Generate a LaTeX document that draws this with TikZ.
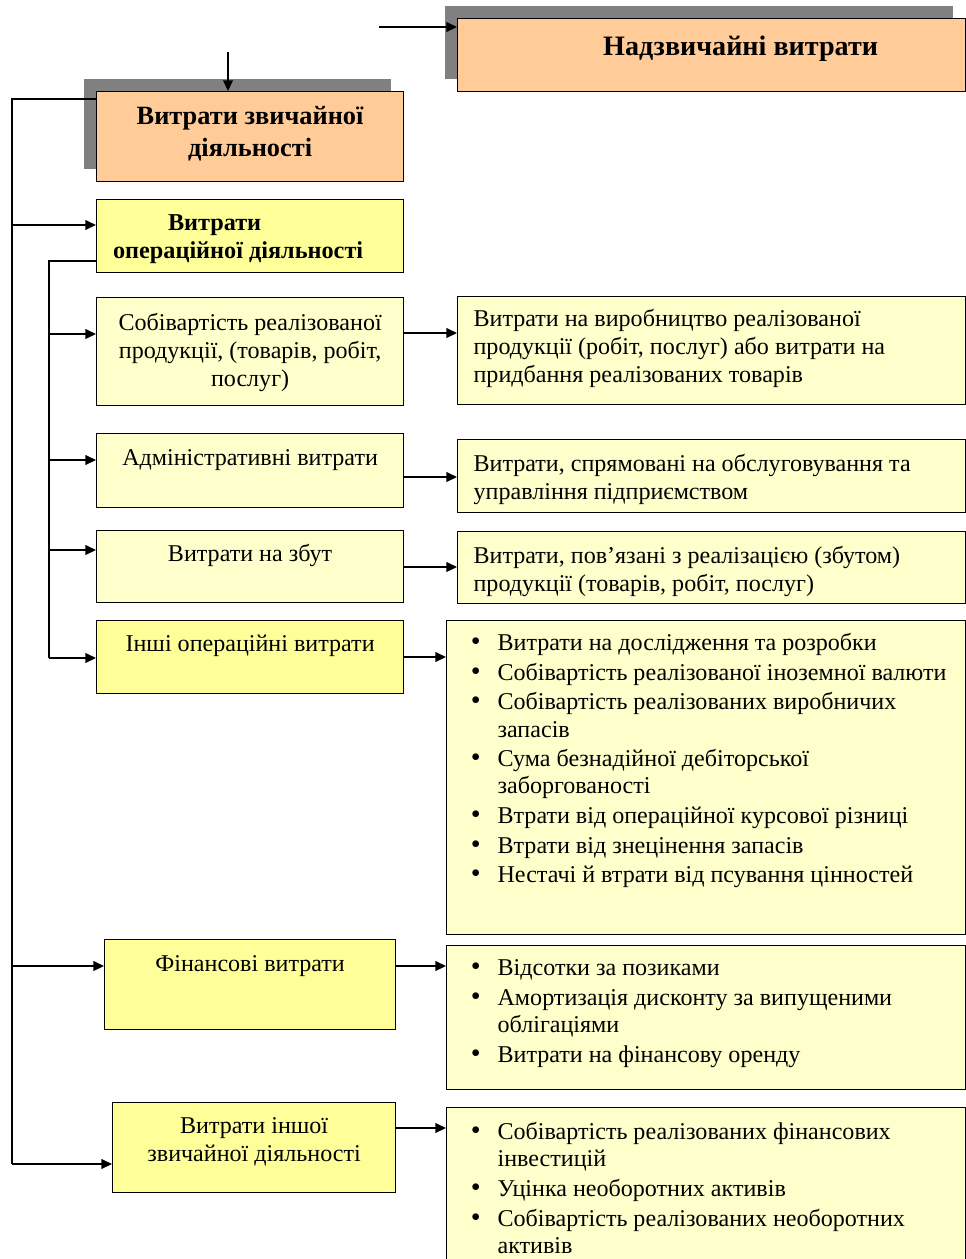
\documentclass[tikz,border=0pt]{standalone}
\usepackage{fontspec}
\setmainfont{Liberation Serif}
\usepackage{enumitem}
\usetikzlibrary{arrows.meta, positioning, calc, shadows}
\definecolor{peach}{RGB}{255,204,153}
\definecolor{lemon}{RGB}{255,255,153}
\definecolor{cream}{RGB}{255,255,204}
\definecolor{shadegray}{RGB}{128,128,128}
\newlength{\px}
\setlength{\px}{0.02cm}
% fixed cell: width, height, gap above text, text (px)
\newcommand{\cell}[4]{\parbox[c][#2\px][t]{#1\px}{\vspace*{#3\px}#4}}
\setlist[itemize]{nosep, itemsep=1.5pt, leftmargin=51\px, labelsep=17\px,
                  label={\fontsize{16}{16}\selectfont\textbullet}}
\tikzset{
  box/.style={rectangle, draw=black, line width=0.7pt, inner sep=0pt,
              anchor=north west, font=\fontsize{13.7}{15.9}\selectfont},
  hotbox/.style={box, fill=lemon},
  palebox/.style={box, fill=cream},
  headbox/.style={box, fill=peach, font=\fontsize{15}{18.5}\selectfont\bfseries,
                  drop shadow={shadow xshift=-7pt, shadow yshift=7pt,
                               opacity=1, fill=shadegray}},
  line/.style={line width=0.8pt},
  arr/.style={line, -{Triangle[length=6pt, width=5.5pt]}},
}

\begin{document}
\begin{tikzpicture}[x=0.02cm, y=-0.02cm]
  \useasboundingbox (0,0) rectangle (966,1259);
  \clip (0,0) rectangle (966,1259);

  % Top blocks
  \node[headbox, font=\fontsize{16}{19.5}\selectfont\bfseries] (extra) at (457,18)
    {\cell{508}{73}{13}{\centering\strut\hspace*{58\px}Надзвичайні витрати\par}};
  \node[headbox] (usual) at (96,91)
    {\cell{307}{90}{10}{\centering\strut Витрати звичайної\\діяльності\par}};

  % Left column
  \node[hotbox, font=\fontsize{13.8}{15.9}\selectfont\bfseries] (oper) at (96,199)
    {\cell{307}{73}{11}{\centering\strut Витрати\hspace*{71\px}\null\\операційної діяльності\hspace*{24\px}\null\par}};
  \node[palebox] (cost) at (96,297)
    {\cell{307}{108}{13}{\centering\strut Собівартість реалізованої\\продукції, (товарів, робіт,\\послуг)\par}};
  \node[palebox] (admin) at (96,433)
    {\cell{307}{74}{12}{\centering\strut Адміністративні витрати\par}};
  \node[palebox] (sales) at (96,530)
    {\cell{307}{72}{11.5}{\centering\strut Витрати на збут\par}};
  \node[hotbox] (othop) at (96,620)
    {\cell{307}{73}{11.5}{\centering\strut Інші операційні витрати\par}};
  \node[hotbox] (fin) at (104,939)
    {\cell{291}{90}{12}{\centering\strut Фінансові витрати\par}};
  \node[hotbox] (othusual) at (112,1102)
    {\cell{283}{90}{11.5}{\centering\strut Витрати іншої\\звичайної діяльності\par}};

  % Right column
  \node[palebox] (rcost) at (457,296)
    {\cell{508}{108}{10}{\raggedright\leftskip=16\px\strut Витрати на виробництво реалізованої\\продукції (робіт, послуг) або витрати на\\придбання реалізованих товарів\par}};
  \node[palebox] (radmin) at (457,439)
    {\cell{508}{73}{12}{\raggedright\leftskip=16\px\strut Витрати, спрямовані на обслуговування та\\управління підприємством\par}};
  \node[palebox] (rsales) at (457,531)
    {\cell{508}{72}{12}{\raggedright\leftskip=16\px\strut Витрати, пов’язані з реалізацією (збутом)\\продукції (товарів, робіт, послуг)\par}};
  \node[palebox] (rothop) at (446,620)
    {\cell{519}{314}{11}{\fontsize{13.7}{15.4}\selectfont\raggedright
      \begin{itemize}
        \item \strut Витрати на дослідження та розробки
        \item Собівартість реалізованої іноземної валюти
        \item Собівартість реалізованих виробничих\\запасів
        \item Сума безнадійної дебіторської\\заборгованості
        \item Втрати від операційної курсової різниці
        \item Втрати від знецінення запасів
        \item Нестачі й втрати від псування цінностей
      \end{itemize}}};
  \node[palebox] (rfin) at (446,945)
    {\cell{519}{144}{11}{\fontsize{13.7}{15.4}\selectfont\raggedright
      \begin{itemize}
        \item \strut Відсотки за позиками
        \item Амортизація дисконту за випущеними\\облігаціями
        \item Витрати на фінансову оренду
      \end{itemize}}};
  \node[palebox] (rothusual) at (446,1107)
    {\cell{519}{172}{13}{\fontsize{13.7}{15.4}\selectfont\raggedright
      \begin{itemize}
        \item \strut Собівартість реалізованих фінансових\\інвестицій
        \item Уцінка необоротних активів
        \item Собівартість реалізованих необоротних\\активів
      \end{itemize}}};

  % Connectors
  \coordinate (trunkA) at (12,0);
  \coordinate (trunkB) at (49,0);
  \foreach \dst/\tr/\dy in {oper/trunkA/26, cost/trunkB/37, admin/trunkB/27,
                            sales/trunkB/20, othop/trunkB/38, fin/trunkA/27,
                            othusual/trunkA/62}{
    \coordinate (in\dst) at ($(\dst.north west)+(0,\dy)$);
    \draw[arr] (\tr |- in\dst) -- (in\dst);
  }
  \draw[line] ($(usual.north west)+(0,8)$) -| (trunkA |- inothusual);
  \draw[line] ($(oper.north west)+(0,62)$) -| (trunkB |- inothop);

  \foreach \src/\dst/\dy in {cost/rcost/37, admin/radmin/38, sales/rsales/36,
                             othop/rothop/37, fin/rfin/21, othusual/rothusual/21}{
    \coordinate (in\dst) at ($(\dst.north west)+(0,\dy)$);
    \draw[arr] (\src.east |- in\dst) -- (in\dst);
  }

  % Entry arrows at the top
  \coordinate (feedusual) at (228,52);
  \coordinate (feedextra) at (379,27);
  \draw[arr] (feedusual) -- (feedusual |- usual.north);
  \draw[arr] (feedextra) -- (feedextra -| extra.west);
\end{tikzpicture}
\end{document}
